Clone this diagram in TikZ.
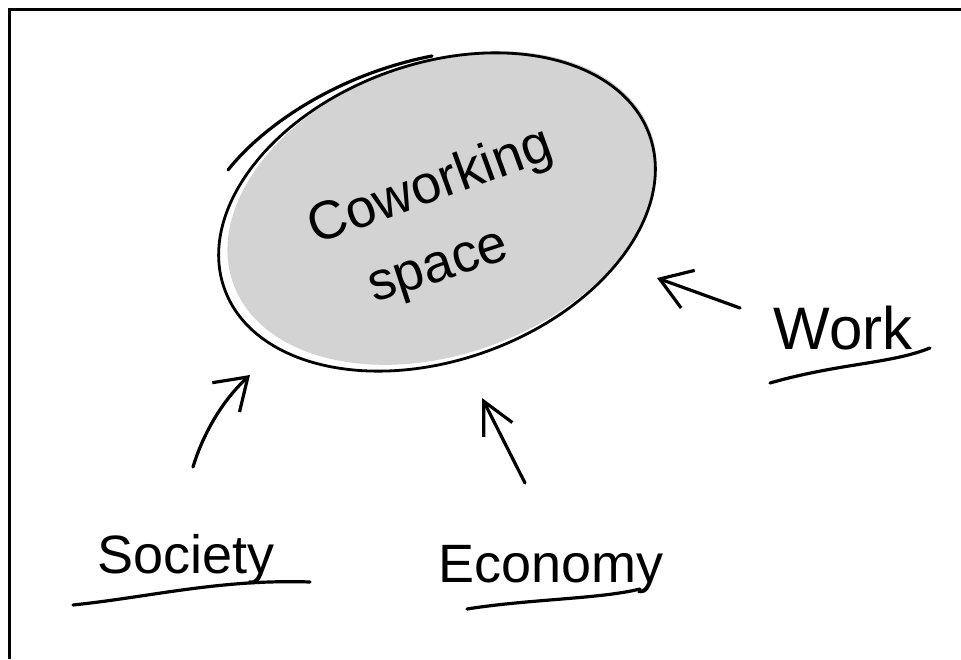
\documentclass[tikz,border=0pt]{standalone}
\usepackage{fontspec}
\setmainfont{Liberation Sans}
\usetikzlibrary{arrows.meta,shapes.geometric}
\definecolor{hubgrey}{HTML}{D3D3D3}
\begin{document}
\begin{tikzpicture}[x=1pt,y=1pt,
  pen/.style={line width=3.2pt, line cap=round, line join=round},
  arr/.style={pen, -{Straight Barb[length=30pt,width=40pt]}},
  lbl/.style={font=\fontsize{54}{58}\selectfont, inner sep=0pt},
  hubtext/.style={font=\fontsize{54}{58}\selectfont, inner sep=0pt}]
\useasboundingbox (0,0) rectangle (961,659);
\fill[white] (0,0) rectangle (961,659);
% frame
\draw[line width=3pt] (9.5,0) -- (9.5,649.5) -- (961,649.5);
% hub fill (slightly offset, hand-coloured)
\fill[hubgrey, rotate around={20:(442,451)}] (442,451) ellipse [x radius=222, y radius=146];
% hub outline
\node[ellipse, draw, pen, line width=2.8pt, minimum width=452pt, minimum height=296pt, inner sep=0pt, rotate=20] (hub) at (437,447) {};
\draw[pen] (228,489) .. controls (262,532) and (335,584) .. (432,603);
\node[hubtext, rotate=20] (cw) at (431,471) {Coworking};
\node[hubtext, rotate=18] (sp) at (440,387) {space};
% labels
\node[lbl, anchor=base] (soc) at (186,86) {Society};
\node[lbl, anchor=base] (eco) at (551,77) {Economy};
\node[lbl, anchor=base, font=\fontsize{60}{64}\selectfont] (wrk) at (843,309) {Work};
% underlines
\draw[pen] (73,54) .. controls (150,62) and (220,80) .. (310,77);
\draw[pen] (467,50) .. controls (530,60) and (600,60) .. (640,70);
\draw[pen] (770,276) .. controls (840,296) and (890,295) .. (930,311);
% arrows
\coordinate (socTail) at (193,192);
\coordinate (socTip) at (250,284);
\coordinate (ecoTail) at (525,176);
\coordinate (ecoTip) at (482,261);
\coordinate (wrkTail) at (740,351);
\coordinate (wrkTip) at (657,381);
\draw[arr] (socTail) .. controls (203,225) and (222,258) .. (socTip);
\draw[pen, -{Straight Barb[length=32pt,width=32pt]}] (ecoTail) -- (ecoTip);
\draw[arr] (wrkTail) -- (wrkTip);
\end{tikzpicture}
\end{document}
